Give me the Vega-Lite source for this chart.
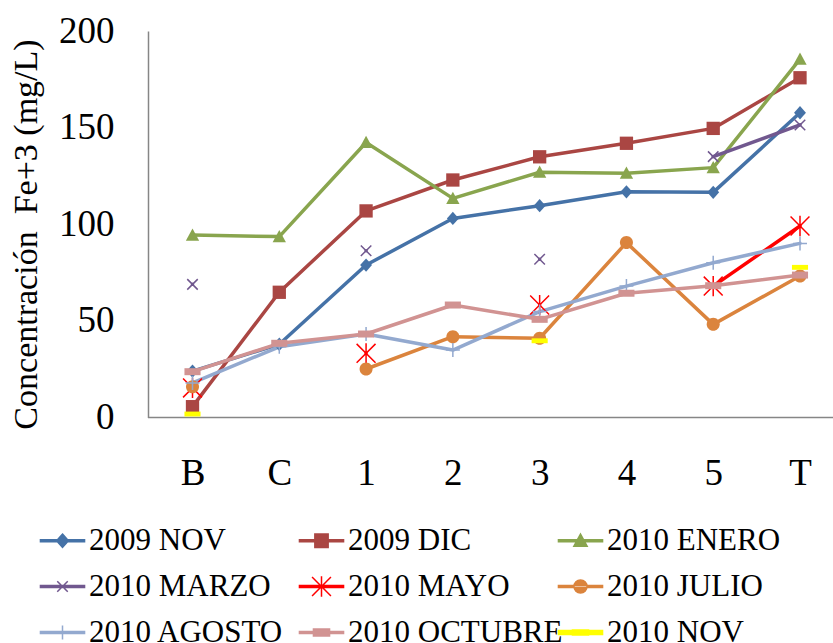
{
  "$schema": "https://vega.github.io/schema/vega-lite/v6.json",
  "autosize": {"type": "none"},
  "width": 685,
  "height": 386.5,
  "padding": {"left": 148, "top": 31, "right": 0, "bottom": 225.5},
  "background": "white",
  "config": {
    "view": {"stroke": null},
    "font": "Liberation Serif",
    "axis": {"grid": false, "labelColor": "black", "titleColor": "black", "labelFont": "Liberation Serif", "titleFont": "Liberation Serif"},
    "legend": {"labelFont": "Liberation Serif", "labelFontSize": 31, "labelColor": "black"}
  },
  "data": {
    "values": [
      {"s": "2009 NOV", "site": "B", "v": 24.0}, {"s": "2009 NOV", "site": "C", "v": 37.9}, {"s": "2009 NOV", "site": "1", "v": 78.9}, {"s": "2009 NOV", "site": "2", "v": 103.0},
      {"s": "2009 NOV", "site": "3", "v": 109.6}, {"s": "2009 NOV", "site": "4", "v": 116.8}, {"s": "2009 NOV", "site": "5", "v": 116.5}, {"s": "2009 NOV", "site": "T", "v": 157.7},
      {"s": "2009 DIC", "site": "B", "v": 5.6}, {"s": "2009 DIC", "site": "C", "v": 64.8}, {"s": "2009 DIC", "site": "1", "v": 106.9}, {"s": "2009 DIC", "site": "2", "v": 122.9},
      {"s": "2009 DIC", "site": "3", "v": 134.9}, {"s": "2009 DIC", "site": "4", "v": 141.9}, {"s": "2009 DIC", "site": "5", "v": 149.6}, {"s": "2009 DIC", "site": "T", "v": 175.8},
      {"s": "2010 ENERO", "site": "B", "v": 94.4}, {"s": "2010 ENERO", "site": "C", "v": 93.6}, {"s": "2010 ENERO", "site": "1", "v": 142.3}, {"s": "2010 ENERO", "site": "2", "v": 113.4},
      {"s": "2010 ENERO", "site": "3", "v": 126.9}, {"s": "2010 ENERO", "site": "4", "v": 126.4}, {"s": "2010 ENERO", "site": "5", "v": 129.3}, {"s": "2010 ENERO", "site": "T", "v": 185.4},
      {"s": "2010 MARZO", "site": "B", "v": 68.9}, {"s": "2010 MARZO", "site": "C", "v": null}, {"s": "2010 MARZO", "site": "1", "v": 86.3}, {"s": "2010 MARZO", "site": "2", "v": null},
      {"s": "2010 MARZO", "site": "3", "v": 81.9}, {"s": "2010 MARZO", "site": "4", "v": null}, {"s": "2010 MARZO", "site": "5", "v": 135.0}, {"s": "2010 MARZO", "site": "T", "v": 151.4},
      {"s": "2010 MAYO", "site": "B", "v": 15.3}, {"s": "2010 MAYO", "site": "C", "v": null}, {"s": "2010 MAYO", "site": "1", "v": 33.2}, {"s": "2010 MAYO", "site": "2", "v": null},
      {"s": "2010 MAYO", "site": "3", "v": 58.2}, {"s": "2010 MAYO", "site": "4", "v": null}, {"s": "2010 MAYO", "site": "5", "v": 68.0}, {"s": "2010 MAYO", "site": "T", "v": 99.1},
      {"s": "2010 JULIO", "site": "B", "v": 15.9}, {"s": "2010 JULIO", "site": "C", "v": null}, {"s": "2010 JULIO", "site": "1", "v": 25.1}, {"s": "2010 JULIO", "site": "2", "v": 41.8},
      {"s": "2010 JULIO", "site": "3", "v": 41.0}, {"s": "2010 JULIO", "site": "4", "v": 90.5}, {"s": "2010 JULIO", "site": "5", "v": 48.2}, {"s": "2010 JULIO", "site": "T", "v": 73.2},
      {"s": "2010 AGOSTO", "site": "B", "v": 17.9}, {"s": "2010 AGOSTO", "site": "C", "v": 36.6}, {"s": "2010 AGOSTO", "site": "1", "v": 43.2}, {"s": "2010 AGOSTO", "site": "2", "v": 34.9},
      {"s": "2010 AGOSTO", "site": "3", "v": 54.8}, {"s": "2010 AGOSTO", "site": "4", "v": 68.0}, {"s": "2010 AGOSTO", "site": "5", "v": 80.1}, {"s": "2010 AGOSTO", "site": "T", "v": 90.1},
      {"s": "2010 OCTUBRE", "site": "B", "v": 23.7}, {"s": "2010 OCTUBRE", "site": "C", "v": 38.4}, {"s": "2010 OCTUBRE", "site": "1", "v": 43.2}, {"s": "2010 OCTUBRE", "site": "2", "v": 58.2},
      {"s": "2010 OCTUBRE", "site": "3", "v": 50.8}, {"s": "2010 OCTUBRE", "site": "4", "v": 64.3}, {"s": "2010 OCTUBRE", "site": "5", "v": 68.2}, {"s": "2010 OCTUBRE", "site": "T", "v": 73.7},
      {"s": "2010 NOV", "site": "B", "v": 1.8}, {"s": "2010 NOV", "site": "C", "v": null}, {"s": "2010 NOV", "site": "1", "v": null}, {"s": "2010 NOV", "site": "2", "v": null},
      {"s": "2010 NOV", "site": "3", "v": 39.7}, {"s": "2010 NOV", "site": "4", "v": null}, {"s": "2010 NOV", "site": "5", "v": null}, {"s": "2010 NOV", "site": "T", "v": 77.7}
    ]
  },
  "encoding": {
    "x": {
      "field": "site", "type": "nominal",
      "sort": ["B", "C", "1", "2", "3", "4", "5", "T"],
      "scale": {"type": "point", "padding": 0, "range": [44.5, 652]},
      "axis": {"title": null, "domain": false, "ticks": false, "tickSize": 0, "labelAngle": 0, "labelFontSize": 37, "labelBaseline": "alphabetic", "labelPadding": 67}
    },
    "y": {
      "field": "v", "type": "quantitative",
      "scale": {"domain": [0, 200], "nice": false, "zero": true},
      "axis": {
        "title": "Concentración\u00a0 Fe+3 (mg/L)",
        "values": [0, 50, 100, 150, 200],
        "domain": true, "domainColor": "#868686", "domainWidth": 1.5,
        "ticks": false, "tickSize": 0,
        "labelFontSize": 37, "labelPadding": 34,
        "titleFontSize": 34, "titleFontWeight": "normal", "titlePadding": 15, "titleY": 203
      }
    },
    "color": {
      "field": "s", "type": "nominal",
      "scale": {
        "domain": ["2009 NOV", "2009 DIC", "2010 ENERO", "2010 MARZO", "2010 MAYO", "2010 JULIO", "2010 AGOSTO", "2010 OCTUBRE", "2010 NOV"],
        "range": ["#4572A7", "#AA4643", "#89A54E", "#71588F", "#FF0000", "#DB843D", "#93A9CF", "#D19392", "#FFFF00"]
      },
      "legend": {
        "orient": "none", "legendX": -101, "legendY": 494,
        "title": null, "columns": 3, "direction": "horizontal", "gridAlign": "all",
        "columnPadding": -8, "rowPadding": 14, "padding": 0,
        "labelFont": "Liberation Serif", "labelFontSize": 31, "labelColor": "black", "labelOffset": 11, "labelLimit": 400,
        "symbolSize": 196, "symbolStrokeWidth": 1.5, "symbolOpacity": 1
      }
    }
  },
  "layer": [
    {
      "data": {"values": [{"base": 0}]},
      "mark": {"type": "rule", "color": "#868686", "strokeWidth": 1.5},
      "encoding": {"x": null, "color": null, "y": {"field": "base", "type": "quantitative"}}
    },
    {
      "mark": {"type": "line", "strokeWidth": 3.5, "strokeJoin": "round", "strokeCap": "round", "invalid": "break-paths-show-domains"}
    },
    {
      "transform": [{"filter": {"field": "s", "equal": "2009 NOV"}}],
      "mark": {"type": "point", "filled": true, "size": 196, "strokeWidth": 1.5, "opacity": 1, "shape": "M0,-0.95L0.85,0L0,0.95L-0.85,0Z", "color": "#4572A7"},
      "encoding": {"color": null}
    },
    {
      "transform": [{"filter": {"field": "s", "equal": "2009 DIC"}}],
      "mark": {"type": "point", "filled": true, "size": 196, "strokeWidth": 1.5, "opacity": 1, "shape": "M-0.95,-0.95H0.95V0.95H-0.95Z", "color": "#AA4643"},
      "encoding": {"color": null}
    },
    {
      "transform": [{"filter": {"field": "s", "equal": "2010 ENERO"}}],
      "mark": {"type": "point", "filled": true, "size": 196, "strokeWidth": 1.5, "opacity": 1, "shape": "M0,-0.95L0.95,0.8H-0.95Z", "color": "#89A54E"},
      "encoding": {"color": null}
    },
    {
      "transform": [{"filter": {"field": "s", "equal": "2010 MARZO"}}],
      "mark": {"type": "point", "filled": false, "size": 196, "strokeWidth": 1.5, "opacity": 1, "shape": "M-0.75,-0.75L0.75,0.75M-0.75,0.75L0.75,-0.75", "color": "#71588F"},
      "encoding": {"color": null}
    },
    {
      "transform": [{"filter": {"field": "s", "equal": "2010 MAYO"}}],
      "mark": {"type": "point", "filled": false, "size": 196, "strokeWidth": 1.5, "opacity": 1, "shape": "M-1.35,-1.35L1.35,1.35M-1.35,1.35L1.35,-1.35M0,-1.45V1.45", "color": "#FF0000"},
      "encoding": {"color": null}
    },
    {
      "transform": [{"filter": {"field": "s", "equal": "2010 JULIO"}}],
      "mark": {"type": "point", "filled": true, "size": 196, "strokeWidth": 1.5, "opacity": 1, "shape": "M-0.93,0A0.93,0.93 0 1,0 0.93,0A0.93,0.93 0 1,0 -0.93,0Z", "color": "#DB843D"},
      "encoding": {"color": null}
    },
    {
      "transform": [{"filter": {"field": "s", "equal": "2010 AGOSTO"}}],
      "mark": {"type": "point", "filled": false, "size": 196, "strokeWidth": 1.5, "opacity": 1, "shape": "M-1,0H1M0,-1V1", "color": "#93A9CF"},
      "encoding": {"color": null}
    },
    {
      "transform": [{"filter": {"field": "s", "equal": "2010 OCTUBRE"}}],
      "mark": {"type": "point", "filled": true, "size": 196, "strokeWidth": 1.5, "opacity": 1, "shape": "M-1.15,-0.5H1.15V0.5H-1.15Z", "color": "#D19392"},
      "encoding": {"color": null}
    },
    {
      "transform": [{"filter": {"field": "s", "equal": "2010 NOV"}}],
      "mark": {"type": "point", "filled": true, "size": 196, "strokeWidth": 1.5, "opacity": 1, "shape": "M-1.15,-0.35H1.15V0.35H-1.15Z", "color": "#FFFF00"},
      "encoding": {"color": null}
    },
    {
      "transform": [{"filter": {"field": "v", "lt": -1}}],
      "mark": {"type": "point", "filled": true, "size": 196, "strokeWidth": 1.5, "opacity": 1},
      "encoding": {
        "shape": {
          "field": "s", "type": "nominal",
          "scale": {
            "domain": ["2009 NOV", "2009 DIC", "2010 ENERO", "2010 MARZO", "2010 MAYO", "2010 JULIO", "2010 AGOSTO", "2010 OCTUBRE", "2010 NOV"],
            "range": [
              "M-3.15,-0.16H3.15V0.16H-3.15ZM0,-0.95L0.85,0L0,0.95L-0.85,0Z",
              "M-3.15,-0.16H3.15V0.16H-3.15ZM-0.95,-0.95H0.95V0.95H-0.95Z",
              "M-3.15,-0.16H3.15V0.16H-3.15ZM0,-0.95L0.95,0.8H-0.95Z",
              "M-3.15,-0.16H3.15V0.16H-3.15ZM-0.75,-0.75L0.75,0.75M-0.75,0.75L0.75,-0.75",
              "M-3.15,-0.16H3.15V0.16H-3.15ZM-1.35,-1.35L1.35,1.35M-1.35,1.35L1.35,-1.35M0,-1.45V1.45",
              "M-3.15,-0.16H3.15V0.16H-3.15ZM-0.93,0A0.93,0.93 0 1,0 0.93,0A0.93,0.93 0 1,0 -0.93,0Z",
              "M-3.15,-0.16H3.15V0.16H-3.15ZM-1,0H1M0,-1V1",
              "M-3.15,-0.16H3.15V0.16H-3.15ZM-1.15,-0.5H1.15V0.5H-1.15Z",
              "M-3.15,-0.3H3.15V0.3H-3.15ZM-1.15,-0.35H1.15V0.35H-1.15Z"
            ]
          }
        },
        "stroke": {
          "field": "s", "type": "nominal", "legend": null,
          "scale": {
            "domain": ["2009 NOV", "2009 DIC", "2010 ENERO", "2010 MARZO", "2010 MAYO", "2010 JULIO", "2010 AGOSTO", "2010 OCTUBRE", "2010 NOV"],
            "range": ["#4572A7", "#AA4643", "#89A54E", "#71588F", "#FF0000", "#DB843D", "#93A9CF", "#D19392", "#FFFF00"]
          }
        }
      }
    }
  ]
}
